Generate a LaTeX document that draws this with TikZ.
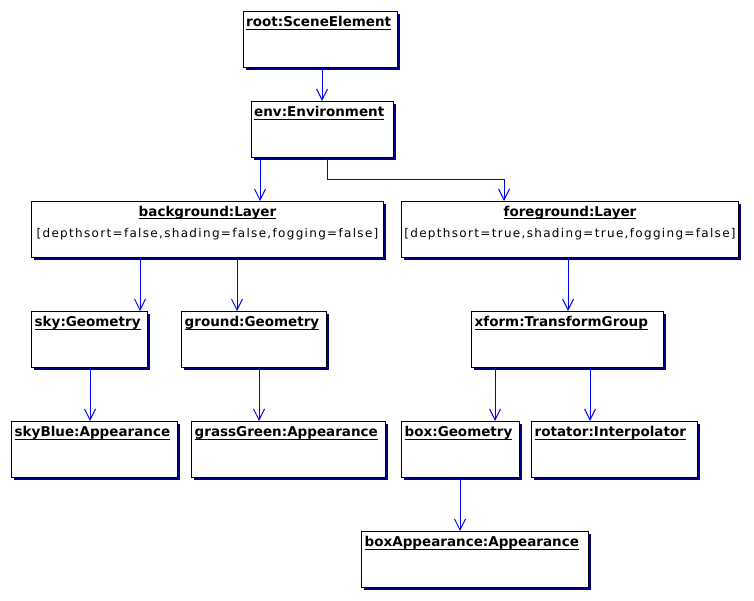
\documentclass[tikz,border=0pt]{standalone}
\usepackage{fontspec}
\setmainfont{DejaVu Sans}
\newfontfamily\attrfont[LetterSpace=11]{DejaVu Sans}
\usetikzlibrary{arrows.meta,shadows}
\definecolor{shadownavy}{RGB}{0,0,128}
\definecolor{connblue}{RGB}{0,0,255}
\newcommand\ulntitle[1]{\setbox0\hbox{#1}\rlap{\rule[-2.8pt]{\wd0}{0.9pt}}\box0}
\tikzset{
  objbox/.style={draw=black, line width=1pt, fill=white, anchor=north west,
    inner sep=0pt, minimum height=56pt,
    drop shadow={shadow xshift=2.6pt, shadow yshift=-2.6pt, fill=shadownavy, opacity=1}},
  titletext/.style={inner sep=0pt, font=\fontsize{13.5}{16}\selectfont\bfseries},
  attrtext/.style={inner sep=0pt, font=\fontsize{12}{14}\attrfont},
  conn/.style={draw=connblue, line width=1pt,
    -{Straight Barb[length=11pt,width=11pt,line width=1pt]}}
}
\begin{document}
\begin{tikzpicture}[x=1pt,y=-1pt]
\useasboundingbox[fill=white] (0,0) rectangle (754,601);

% connector x positions
\coordinate (c1) at (322,68);
\coordinate (c2) at (260,157);
\coordinate (c3) at (327,157);
\coordinate (c4) at (140,257);
\coordinate (c5) at (237,257);
\coordinate (c6) at (568,257);
\coordinate (c7) at (90,367);
\coordinate (c8) at (259,367);
\coordinate (c9) at (495,367);
\coordinate (c10) at (590,367);
\coordinate (c11) at (460,477);
\coordinate (e1) at (504,180);

% boxes
\node[objbox, minimum width=154pt] (root) at (243,11) {};
\node[objbox, minimum width=142pt] (env) at (251,101) {};
\node[objbox, minimum width=352pt] (bg) at (31,201) {};
\node[objbox, minimum width=337pt] (fg) at (401,201) {};
\node[objbox, minimum width=116pt] (sky) at (31,311) {};
\node[objbox, minimum width=145pt] (ground) at (181,311) {};
\node[objbox, minimum width=192pt] (xform) at (471,311) {};
\node[objbox, minimum width=166pt] (skyblue) at (11,421) {};
\node[objbox, minimum width=194pt] (grass) at (191,421) {};
\node[objbox, minimum width=118pt] (boxg) at (401,421) {};
\node[objbox, minimum width=166pt] (rot) at (531,421) {};
\node[objbox, minimum width=227pt] (boxapp) at (361,531) {};

% connectors
\draw[conn] (c1 |- root.south) -- (c1 |- env.north);
\draw[conn] (c2 |- env.south) -- (c2 |- bg.north);
\draw[conn] (c3 |- env.south) -- (c3 |- e1) -- (e1) -- (e1 |- fg.north);
\draw[conn] (c4 |- bg.south) -- (c4 |- sky.north);
\draw[conn] (c5 |- bg.south) -- (c5 |- ground.north);
\draw[conn] (c6 |- fg.south) -- (c6 |- xform.north);
\draw[conn] (c7 |- sky.south) -- (c7 |- skyblue.north);
\draw[conn] (c8 |- ground.south) -- (c8 |- grass.north);
\draw[conn] (c9 |- xform.south) -- (c9 |- boxg.north);
\draw[conn] (c10 |- xform.south) -- (c10 |- rot.north);
\draw[conn] (c11 |- boxg.south) -- (c11 |- boxapp.north);

% titles
\node[titletext, anchor=base west] (rootT) at ([xshift=3pt,yshift=-15.7pt]root.north west) {\ulntitle{root:SceneElement}};
\node[titletext, anchor=base west] (envT) at ([xshift=3pt,yshift=-15.7pt]env.north west) {\ulntitle{env:Environment}};
\node[titletext, anchor=base] (bgT) at ([yshift=-15.5pt]bg.north) {\ulntitle{background:Layer}};
\node[titletext, anchor=base] (fgT) at ([yshift=-15.5pt]fg.north) {\ulntitle{foreground:Layer}};
\node[titletext, anchor=base west] (skyT) at ([xshift=3.5pt,yshift=-15.7pt]sky.north west) {\ulntitle{sky:Geometry}};
\node[titletext, anchor=base west] (groundT) at ([xshift=3.5pt,yshift=-15.7pt]ground.north west) {\ulntitle{ground:Geometry}};
\node[titletext, anchor=base west] (xformT) at ([xshift=3.5pt,yshift=-15.7pt]xform.north west) {\ulntitle{xform:TransformGroup}};
\node[titletext, anchor=base west] (skyblueT) at ([xshift=3.5pt,yshift=-15.7pt]skyblue.north west) {\ulntitle{skyBlue:Appearance}};
\node[titletext, anchor=base west] (grassT) at ([xshift=3.5pt,yshift=-15.7pt]grass.north west) {\ulntitle{grassGreen:Appearance}};
\node[titletext, anchor=base west] (boxgT) at ([xshift=3.5pt,yshift=-15.7pt]boxg.north west) {\ulntitle{box:Geometry}};
\node[titletext, anchor=base west] (rotT) at ([xshift=3.5pt,yshift=-15.7pt]rot.north west) {\ulntitle{rotator:Interpolator}};
\node[titletext, anchor=base west] (boxappT) at ([xshift=3.5pt,yshift=-15.7pt]boxapp.north west) {\ulntitle{boxAppearance:Appearance}};

% attributes
\node[attrtext, anchor=base] (bgA) at ([yshift=-37pt]bg.north) {[depthsort=false,shading=false,fogging=false]};
\node[attrtext, anchor=base] (fgA) at ([yshift=-37pt]fg.north) {[depthsort=true,shading=true,fogging=false]};
\end{tikzpicture}
\end{document}
